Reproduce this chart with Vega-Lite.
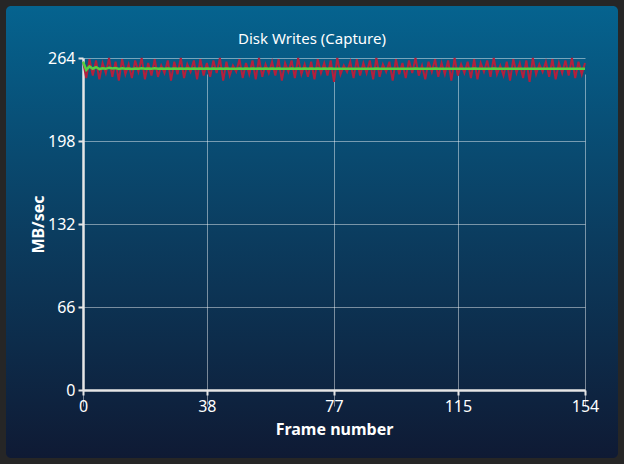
{
  "$schema": "https://vega.github.io/schema/vega-lite/v6.json",
  "width": 612,
  "height": 452,
  "padding": 6,
  "autosize": {"type": "none"},
  "background": "#262626",
  "view": {
    "fill": {"gradient": "linear", "x1": 0, "y1": 0, "x2": 0, "y2": 1,
      "stops": [{"offset": 0, "color": "#05638f"}, {"offset": 0.5, "color": "#0b3d60"}, {"offset": 1, "color": "#0f1a34"}]},
    "stroke": null,
    "cornerRadius": 5
  },
  "title": {"text": "Disk Writes (Capture)", "color": "#ffffff", "font": "Noto Sans", "fontSize": 15, "fontWeight": "normal", "baseline": "middle", "offset": -48, "anchor": "middle"},
  "data": {"values": [
    {"frame":0,"writes":261,"avg":261},{"frame":1,"writes":248,"avg":254.5},{"frame":2,"writes":263,"avg":257.3},{"frame":3,"writes":250,"avg":255.5},{"frame":4,"writes":262,"avg":256.8},{"frame":5,"writes":247,"avg":255.2},{"frame":6,"writes":260,"avg":255.9},{"frame":7,"writes":252,"avg":255.4},{"frame":8,"writes":264,"avg":256.3},{"frame":9,"writes":249,"avg":255.6},
    {"frame":10,"writes":261,"avg":256.1},{"frame":11,"writes":246,"avg":255.3},{"frame":12,"writes":263,"avg":255.8},{"frame":13,"writes":251,"avg":255.5},{"frame":14,"writes":259,"avg":255.7},{"frame":15,"writes":248,"avg":255.3},{"frame":16,"writes":262,"avg":255.6},{"frame":17,"writes":253,"avg":255.5},{"frame":18,"writes":264,"avg":255.9},{"frame":19,"writes":247,"avg":255.5},
    {"frame":20,"writes":260,"avg":255.7},{"frame":21,"writes":250,"avg":255.5},{"frame":22,"writes":263,"avg":255.8},{"frame":23,"writes":249,"avg":255.5},{"frame":24,"writes":258,"avg":255.6},{"frame":25,"writes":252,"avg":255.5},{"frame":26,"writes":262,"avg":255.7},{"frame":27,"writes":246,"avg":255.4},{"frame":28,"writes":261,"avg":255.6},{"frame":29,"writes":251,"avg":255.4},
    {"frame":30,"writes":264,"avg":255.7},{"frame":31,"writes":248,"avg":255.5},{"frame":32,"writes":259,"avg":255.6},{"frame":33,"writes":253,"avg":255.5},{"frame":34,"writes":262,"avg":255.7},{"frame":35,"writes":247,"avg":255.5},{"frame":36,"writes":263,"avg":255.7},{"frame":37,"writes":250,"avg":255.5},{"frame":38,"writes":260,"avg":255.6},{"frame":39,"writes":249,"avg":255.5},
    {"frame":40,"writes":262,"avg":255.6},{"frame":41,"writes":252,"avg":255.5},{"frame":42,"writes":264,"avg":255.7},{"frame":43,"writes":246,"avg":255.5},{"frame":44,"writes":261,"avg":255.6},{"frame":45,"writes":250,"avg":255.5},{"frame":46,"writes":258,"avg":255.5},{"frame":47,"writes":253,"avg":255.5},{"frame":48,"writes":263,"avg":255.6},{"frame":49,"writes":248,"avg":255.5},
    {"frame":50,"writes":260,"avg":255.6},{"frame":51,"writes":251,"avg":255.5},{"frame":52,"writes":262,"avg":255.6},{"frame":53,"writes":247,"avg":255.5},{"frame":54,"writes":264,"avg":255.6},{"frame":55,"writes":249,"avg":255.5},{"frame":56,"writes":259,"avg":255.6},{"frame":57,"writes":252,"avg":255.5},{"frame":58,"writes":261,"avg":255.6},{"frame":59,"writes":250,"avg":255.5},
    {"frame":60,"writes":263,"avg":255.6},{"frame":61,"writes":246,"avg":255.5},{"frame":62,"writes":260,"avg":255.5},{"frame":63,"writes":253,"avg":255.5},{"frame":64,"writes":262,"avg":255.6},{"frame":65,"writes":248,"avg":255.5},{"frame":66,"writes":264,"avg":255.6},{"frame":67,"writes":251,"avg":255.5},{"frame":68,"writes":259,"avg":255.6},{"frame":69,"writes":249,"avg":255.5},
    {"frame":70,"writes":261,"avg":255.6},{"frame":71,"writes":247,"avg":255.5},{"frame":72,"writes":263,"avg":255.6},{"frame":73,"writes":252,"avg":255.5},{"frame":74,"writes":260,"avg":255.6},{"frame":75,"writes":250,"avg":255.5},{"frame":76,"writes":262,"avg":255.6},{"frame":77,"writes":245,"avg":255.4},{"frame":78,"writes":264,"avg":255.5},{"frame":79,"writes":251,"avg":255.5},
    {"frame":80,"writes":258,"avg":255.5},{"frame":81,"writes":253,"avg":255.5},{"frame":82,"writes":261,"avg":255.5},{"frame":83,"writes":248,"avg":255.5},{"frame":84,"writes":263,"avg":255.5},{"frame":85,"writes":250,"avg":255.5},{"frame":86,"writes":260,"avg":255.5},{"frame":87,"writes":252,"avg":255.5},{"frame":88,"writes":262,"avg":255.5},{"frame":89,"writes":247,"avg":255.5},
    {"frame":90,"writes":264,"avg":255.6},{"frame":91,"writes":249,"avg":255.5},{"frame":92,"writes":259,"avg":255.5},{"frame":93,"writes":253,"avg":255.5},{"frame":94,"writes":261,"avg":255.5},{"frame":95,"writes":246,"avg":255.5},{"frame":96,"writes":263,"avg":255.5},{"frame":97,"writes":251,"avg":255.5},{"frame":98,"writes":260,"avg":255.5},{"frame":99,"writes":248,"avg":255.5},
    {"frame":100,"writes":262,"avg":255.5},{"frame":101,"writes":252,"avg":255.5},{"frame":102,"writes":264,"avg":255.6},{"frame":103,"writes":250,"avg":255.5},{"frame":104,"writes":258,"avg":255.5},{"frame":105,"writes":247,"avg":255.5},{"frame":106,"writes":261,"avg":255.5},{"frame":107,"writes":253,"avg":255.5},{"frame":108,"writes":263,"avg":255.6},{"frame":109,"writes":249,"avg":255.5},
    {"frame":110,"writes":260,"avg":255.5},{"frame":111,"writes":251,"avg":255.5},{"frame":112,"writes":262,"avg":255.5},{"frame":113,"writes":246,"avg":255.5},{"frame":114,"writes":264,"avg":255.5},{"frame":115,"writes":250,"avg":255.5},{"frame":116,"writes":259,"avg":255.5},{"frame":117,"writes":252,"avg":255.5},{"frame":118,"writes":261,"avg":255.5},{"frame":119,"writes":248,"avg":255.5},
    {"frame":120,"writes":263,"avg":255.6},{"frame":121,"writes":247,"avg":255.5},{"frame":122,"writes":260,"avg":255.5},{"frame":123,"writes":253,"avg":255.5},{"frame":124,"writes":262,"avg":255.5},{"frame":125,"writes":249,"avg":255.5},{"frame":126,"writes":264,"avg":255.6},{"frame":127,"writes":251,"avg":255.5},{"frame":128,"writes":258,"avg":255.5},{"frame":129,"writes":250,"avg":255.5},
    {"frame":130,"writes":261,"avg":255.5},{"frame":131,"writes":246,"avg":255.5},{"frame":132,"writes":263,"avg":255.5},{"frame":133,"writes":252,"avg":255.5},{"frame":134,"writes":260,"avg":255.5},{"frame":135,"writes":248,"avg":255.5},{"frame":136,"writes":262,"avg":255.5},{"frame":137,"writes":245,"avg":255.5},{"frame":138,"writes":264,"avg":255.5},{"frame":139,"writes":251,"avg":255.5},
    {"frame":140,"writes":259,"avg":255.5},{"frame":141,"writes":253,"avg":255.5},{"frame":142,"writes":261,"avg":255.5},{"frame":143,"writes":249,"avg":255.5},{"frame":144,"writes":263,"avg":255.5},{"frame":145,"writes":247,"avg":255.5},{"frame":146,"writes":260,"avg":255.5},{"frame":147,"writes":252,"avg":255.5},{"frame":148,"writes":262,"avg":255.5},{"frame":149,"writes":250,"avg":255.5},
    {"frame":150,"writes":264,"avg":255.5},{"frame":151,"writes":248,"avg":255.5},{"frame":152,"writes":261,"avg":255.5},{"frame":153,"writes":251,"avg":255.5},{"frame":154,"writes":260,"avg":255.5}
  ]},
  "encoding": {
    "x": {"field": "frame", "type": "quantitative",
      "scale": {"domain": [0, 154], "range": [77, 579], "nice": false, "zero": false},
      "axis": {"title": "Frame number", "values": [0, 38, 77, 115, 154], "offset": -68, "grid": true, "titlePadding": 7}}
  },
  "layer": [
    {"mark": {"type": "line", "color": "#b3203c", "strokeWidth": 2, "clip": true},
     "encoding": {"y": {"field": "writes", "type": "quantitative",
       "scale": {"domain": [0, 264], "range": [384, 52], "nice": false},
       "axis": {"title": "MB/sec", "values": [0, 66, 132, 198, 264], "offset": -77, "grid": true, "titlePadding": 1}}}},
    {"mark": {"type": "line", "color": "#55d040", "strokeWidth": 2.5},
     "encoding": {"y": {"field": "avg", "type": "quantitative"}}}
  ],
  "config": {
    "axis": {
      "labelColor": "#ffffff", "labelFont": "Noto Sans", "labelFontSize": 16,
      "titleColor": "#ffffff", "titleFont": "Noto Sans", "titleFontSize": 16, "titleFontWeight": "bold",
      "domainColor": "#e6e6e6", "domainWidth": 2.5, "tickColor": "#e6e6e6", "tickWidth": 2, "tickSize": 5,
      "gridColor": "#ffffff", "gridOpacity": 0.45, "gridWidth": 1,
      "labelFlush": false, "labelOverlap": false, "labelPadding": 3, "titlePadding": 6
    }
  }
}
